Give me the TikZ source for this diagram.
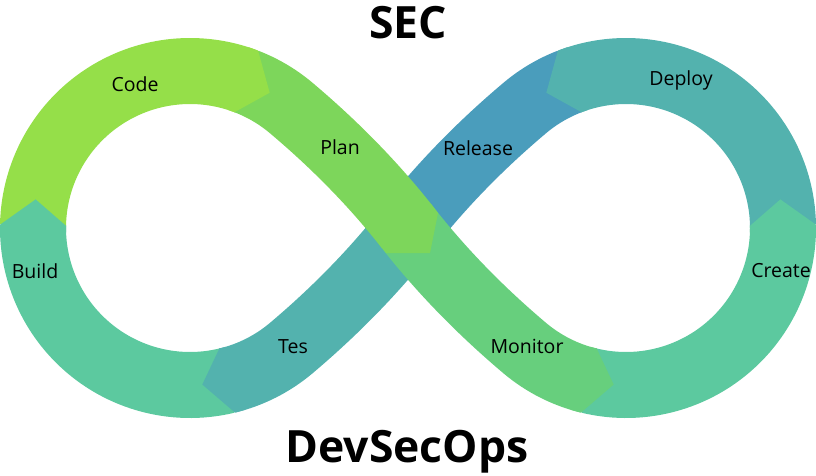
\documentclass[tikz,border=0pt]{standalone}
\usepackage{fontspec}
\setmainfont{Open Sans}
\usetikzlibrary{calc}
\definecolor{cCode}{HTML}{95DF49}
\definecolor{cPlan}{HTML}{7DD65B}
\definecolor{cMonitor}{HTML}{67CF7D}
\definecolor{cCreate}{HTML}{5CC99F}
\definecolor{cBuild}{HTML}{5CC99F}
\definecolor{cTes}{HTML}{53B2AE}
\definecolor{cDeploy}{HTML}{53B2AE}
\definecolor{cRelease}{HTML}{4A9DBC}
\newcommand{\flowtip}[5]{\fill[#5] ($(#1)+(#4:190pt)$) -- ($(#1)+(#2:190pt)$) -- ($(#1)+(#3:157pt)$) -- ($(#1)+(#2:124pt)$) -- ($(#1)+(#4:124pt)$) -- cycle;}
\begin{document}
\begin{tikzpicture}[x=1pt,y=1pt,yscale=-1,
  band/.style={line width=66pt,line cap=butt},
  lbl/.style={anchor=base,font=\fontsize{19.5}{22}\selectfont,inner sep=0pt},
  ttl/.style={anchor=base,font=\fontsize{44.5}{50}\selectfont\bfseries,inner sep=0pt}]
\useasboundingbox (0,0) rectangle (816,475);
\coordinate (CL) at (190,228);
\coordinate (CR) at (626,228);
\coordinate (X) at (408,228);
% under band: Release and Tes
\draw[band,cRelease] ($(CR)+(-111:157pt)$) arc[start angle=-111,end angle=-130,radius=157pt]
  .. controls (482,144) and (442.5,184) .. (X);
\draw[band,cTes] (X) .. controls (373.5,272) and (334,312) .. (291,348.3)
  arc[start angle=50,end angle=76.3,radius=157pt];
\draw[band,cBuild] ($(CL)+(76.3:157pt)$) arc[start angle=76.3,end angle=181,radius=157pt];
\draw[band,cCode] ($(CL)+(181:157pt)$) arc[start angle=181,end angle=291,radius=157pt];
\draw[band,cCreate] ($(CR)+(103.7:157pt)$) arc[start angle=103.7,end angle=-1,radius=157pt];
\draw[band,cDeploy] ($(CR)+(-1:157pt)$) arc[start angle=-1,end angle=-111,radius=157pt];
% over band: Plan and Monitor
\draw[band,cPlan] ($(CL)+(291:157pt)$) arc[start angle=291,end angle=310,radius=157pt]
  .. controls (334,144) and (373.5,184) .. (X);
\draw[band,cMonitor] (X) .. controls (442.5,272) and (482,312) .. (525,348.3)
  arc[start angle=130,end angle=103.7,radius=157pt];
% arrow tips
\flowtip{CL}{76.3}{85.5}{73.3}{cTes}
\flowtip{CL}{181}{190.5}{178}{cBuild}
\flowtip{CL}{291}{300.5}{288}{cCode}
\flowtip{CR}{103.7}{94.5}{106.7}{cMonitor}
\flowtip{CR}{-1}{-10.5}{2}{cCreate}
\flowtip{CR}{-111}{-120.5}{-108}{cDeploy}
\fill[cPlan] (431,204) -- (438,213) -- (430,253) -- (386,253) -- (379,244) -- cycle;
% labels
\node[lbl] (code) at (135,91) {Code};
\node[lbl] (plan) at (340,154) {Plan};
\node[lbl] (build) at (35,278) {Build};
\node[lbl] (tes) at (293,353) {Tes};
\node[lbl] (release) at (478,155) {Release};
\node[lbl] (deploy) at (681,85) {Deploy};
\node[lbl] (create) at (781,277) {Create};
\node[lbl] (monitor) at (527,353) {Monitor};
\node[ttl] (sec) at (408,38) {SEC};
\node[ttl] (devsecops) at (407,462) {DevSecOps};
\end{tikzpicture}
\end{document}
